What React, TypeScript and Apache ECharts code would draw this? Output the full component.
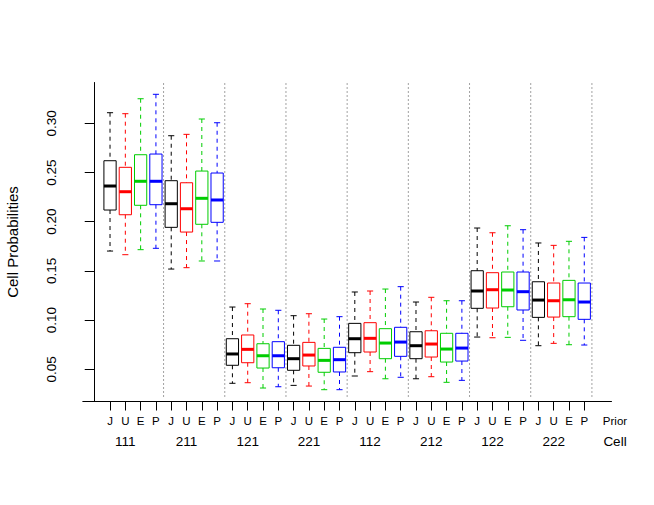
import React, { useEffect, useRef } from "react";
import * as echarts from "echarts";

const cells = ["111", "211", "121", "221", "112", "212", "122", "222"];
const priors = ["J", "U", "E", "P"];
const priorColors = ["#000000", "#FF0000", "#00CD00", "#0000FF"];
const yTicks = [0.05, 0.1, 0.15, 0.2, 0.25, 0.3];

// one value per box, ordered cell by cell (J, U, E, P inside each cell)
const whiskerLow = [
  0.1702, 0.1665, 0.1716, 0.173, // 111
  0.1519, 0.1533, 0.1601, 0.1601, // 211
  0.0358, 0.0364, 0.031, 0.0323, // 121
  0.0337, 0.033, 0.0293, 0.0293, // 221
  0.0432, 0.0476, 0.0404, 0.0419, // 112
  0.0404, 0.0425, 0.0368, 0.0388, // 212
  0.0828, 0.0821, 0.0825, 0.0795, // 122
  0.074, 0.0764, 0.075, 0.0747, // 222
];
const quartile1 = [
  0.2119, 0.2071, 0.2167, 0.2173,
  0.1943, 0.1895, 0.1974, 0.1994,
  0.0541, 0.0567, 0.0513, 0.0516,
  0.049, 0.0534, 0.047, 0.0473,
  0.0669, 0.0676, 0.0608, 0.0632,
  0.0608, 0.0625, 0.0574, 0.0584,
  0.112, 0.1123, 0.1136, 0.1103,
  0.1028, 0.1031, 0.1035, 0.1008,
];
const medians = [
  0.2363, 0.2305, 0.2411, 0.2411,
  0.2183, 0.2132, 0.2238, 0.2221,
  0.0656, 0.0703, 0.0638, 0.0638,
  0.0608, 0.0645, 0.0591, 0.0598,
  0.0811, 0.0815, 0.0767, 0.0777,
  0.074, 0.0757, 0.0706, 0.0716,
  0.1296, 0.1309, 0.1306, 0.1289,
  0.1204, 0.1197, 0.1207, 0.1184,
];
const quartile3 = [
  0.262, 0.2553, 0.2681, 0.2688,
  0.2417, 0.2396, 0.2515, 0.2495,
  0.0811, 0.0849, 0.076, 0.0781,
  0.0744, 0.0774, 0.0713, 0.0724,
  0.0967, 0.0974, 0.0913, 0.0927,
  0.0882, 0.0892, 0.0866, 0.0866,
  0.1502, 0.1482, 0.1489, 0.1489,
  0.139, 0.1377, 0.1404, 0.1377,
];
const whiskerHigh = [
  0.3108, 0.3098, 0.325, 0.3295,
  0.2874, 0.2888, 0.3044, 0.3006,
  0.1133, 0.1167, 0.1113, 0.11,
  0.1045, 0.1065, 0.1011, 0.1035,
  0.1286, 0.1296, 0.1316, 0.134,
  0.1184, 0.1232, 0.1197, 0.1197,
  0.1936, 0.1888, 0.1959, 0.1919,
  0.1784, 0.176, 0.1801, 0.1841,
];

const FONT = "'Liberation Sans', Arial, Helvetica, sans-serif";

export default function App() {
  const ref = useRef<HTMLDivElement>(null);

  useEffect(() => {
    if (!ref.current) return;
    const chart = echarts.init(ref.current, null, { renderer: "svg" });

    const nPriors = priors.length;
    const positions = medians.map((_, i) => i + 1);
    const boxData = medians.map((m, i) => [
      i + 1,
      whiskerLow[i],
      quartile1[i],
      m,
      quartile3[i],
      whiskerHigh[i],
      i % nPriors,
    ]);
    // cell labels sit under the second box of each cell
    const groupLabelPos = cells.map((_, g) => g * nPriors + 2);
    const separators = cells.map((_, g) => g * nPriors + nPriors + 0.5);

    const xMin = 0.5 - 0.04 * positions.length;
    const xMax = positions.length + 0.5 + 0.04 * positions.length;
    const yMin = 0.0173;
    const yMax = 0.3415;

    const baseX = {
      type: "value" as const,
      min: xMin,
      max: xMax,
      position: "bottom" as const,
      splitLine: { show: false },
    };

    chart.setOption({
      animation: false,
      backgroundColor: "#ffffff",
      textStyle: { fontFamily: FONT },
      grid: { left: 82.8, right: 42.5, top: 82.5, bottom: 103.5, containLabel: false, outerBoundsMode: "none" },
      xAxis: [
        {
          ...baseX,
          axisLine: { show: true, onZero: false, lineStyle: { color: "#000", width: 1 } },
          axisTick: { show: true, length: 9, customValues: positions, lineStyle: { color: "#000", width: 1 } },
          axisLabel: { show: false },
        },
        {
          ...baseX,
          offset: 19.5,
          axisLine: { show: false },
          axisTick: { show: false },
          axisLabel: {
            show: true,
            customValues: positions,
            formatter: (v: number) => priors[(Math.round(v) - 1) % nPriors],
            margin: 0,
            verticalAlign: "middle",
            fontSize: 11.5,
            color: "#000",
            fontFamily: FONT,
          },
          name: "Prior",
          nameLocation: "end",
          nameGap: 3.5,
          nameTextStyle: { fontSize: 11.5, color: "#000", fontFamily: FONT, align: "center", verticalAlign: "middle" },
        },
        {
          ...baseX,
          offset: 39.5,
          axisLine: { show: false },
          axisTick: { show: false },
          axisLabel: {
            show: true,
            customValues: groupLabelPos,
            formatter: (v: number) => cells[Math.round((v - 2) / nPriors)],
            margin: 0,
            verticalAlign: "middle",
            fontSize: 13.5,
            color: "#000",
            fontFamily: FONT,
          },
          name: "Cell",
          nameLocation: "end",
          nameGap: 3.5,
          nameTextStyle: { fontSize: 13.5, color: "#000", fontFamily: FONT, align: "center", verticalAlign: "middle" },
        },
      ],
      yAxis: {
        type: "value",
        min: yMin,
        max: yMax,
        splitLine: { show: false },
        axisLine: { show: true, lineStyle: { color: "#000", width: 1 } },
        axisTick: { show: true, length: 10, customValues: yTicks, lineStyle: { color: "#000", width: 1 } },
        axisLabel: {
          customValues: yTicks,
          rotate: 90,
          formatter: (v: number) => v.toFixed(2),
          margin: 24,
          fontSize: 13.5,
          color: "#000",
          fontFamily: FONT,
        },
        name: "Cell Probabilities",
        nameLocation: "middle",
        nameRotate: 90,
        nameGap: 63,
        nameTextStyle: { fontSize: 15, color: "#000", fontFamily: FONT },
      },
      series: [
        {
          type: "custom",
          name: "separators",
          xAxisIndex: 0,
          data: separators.map((s) => [s]),
          silent: true,
          renderItem: (_params: any, api: any) => {
            const x = api.value(0);
            const top = api.coord([x, yMax]);
            const bottom = api.coord([x, yMin]);
            return {
              type: "line",
              shape: { x1: top[0], y1: top[1] + 1, x2: bottom[0], y2: bottom[1] - 4 },
              style: { stroke: "#444", lineWidth: 1, lineDash: [1, 3] },
            };
          },
        },
        {
          type: "custom",
          name: "boxes",
          xAxisIndex: 0,
          data: boxData,
          encode: { x: 0, y: [1, 2, 3, 4, 5] },
          renderItem: (_params: any, api: any) => {
            const x = api.value(0);
            const lo = api.coord([x, api.value(1)]);
            const q1 = api.coord([x, api.value(2)]);
            const md = api.coord([x, api.value(3)]);
            const q3 = api.coord([x, api.value(4)]);
            const hi = api.coord([x, api.value(5)]);
            const unit = api.size([1, 0])[0];
            const bw = unit * 0.8;
            const sw = bw * 0.5;
            const color = priorColors[api.value(6)];
            const cx = lo[0];
            const dashed = { stroke: color, lineWidth: 1, lineDash: [4, 4] };
            const solid = { stroke: color, lineWidth: 1 };
            return {
              type: "group",
              children: [
                { type: "line", shape: { x1: cx, y1: hi[1], x2: cx, y2: q3[1] }, style: dashed },
                { type: "line", shape: { x1: cx, y1: q1[1], x2: cx, y2: lo[1] }, style: dashed },
                { type: "line", shape: { x1: cx - sw / 2, y1: hi[1], x2: cx + sw / 2, y2: hi[1] }, style: solid },
                { type: "line", shape: { x1: cx - sw / 2, y1: lo[1], x2: cx + sw / 2, y2: lo[1] }, style: solid },
                {
                  type: "rect",
                  shape: { x: cx - bw / 2, y: q3[1], width: bw, height: q1[1] - q3[1] },
                  style: { fill: "none", stroke: color, lineWidth: 1 },
                },
                {
                  type: "line",
                  shape: { x1: cx - bw / 2, y1: md[1], x2: cx + bw / 2, y2: md[1] },
                  style: { stroke: color, lineWidth: 3 },
                },
              ],
            };
          },
        },
      ],
    });

    return () => chart.dispose();
  }, []);

  return (
    <div
      ref={ref}
      style={{ position: "absolute", left: 0, top: 0, width: 654, height: 505, background: "#fff" }}
    />
  );
}
